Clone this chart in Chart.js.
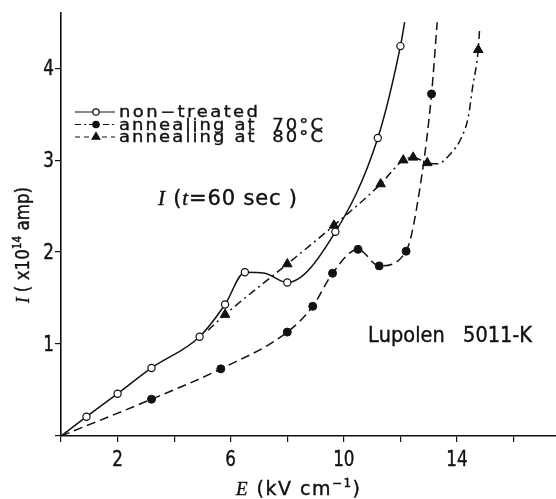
<!DOCTYPE html>
<html lang="en">
<head>
<meta charset="UTF-8">
<title>Lupolen 5011-K current vs field</title>
<style>
  html, body { margin: 0; padding: 0; background: #fff; }
  #wrap { width: 556px; height: 499px; }
</style>
</head>
<body>
<div id="wrap"><canvas id="chart" width="556" height="499"></canvas></div>

<script src="https://cdn.jsdelivr.net/npm/chart.js@4.4.1/dist/chart.umd.js"></script>
<script>
// E in kV/cm, I in 1e-14 amp. Marker points.
const nonTreatedE = [0.9, 2.0, 3.2, 4.9, 5.8, 6.5, 8.0, 9.7, 11.2, 12.0];
const nonTreatedI = [0.21, 0.46, 0.74, 1.08, 1.43, 1.78, 1.67, 2.22, 3.24, 4.24];
const anneal70E = [3.2, 5.65, 8.0, 8.9, 9.6, 10.5, 11.25, 12.2, 13.1];
const anneal70I = [0.40, 0.73, 1.13, 1.41, 1.77, 2.03, 1.85, 2.01, 3.72];
const anneal80E = [5.8, 8.0, 9.65, 11.3, 12.1, 12.45, 12.95, 14.75];
const anneal80I = [1.32, 1.87, 2.29, 2.74, 3.0, 3.03, 2.97, 4.2];

// extra points along the drawn curves (no marker): start, bends, end at top
const nonTreatedLineE = [0, 7.2, 12.15];
const nonTreatedLineI = [0, 1.77, 4.5];
const anneal70LineE = [0, 12.75, 13.3];
const anneal70LineI = [0, 2.82, 4.5];
const anneal80LineE = [5.2, 13.3, 13.8, 14.15, 14.4, 14.55, 14.8];
const anneal80LineI = [1.15, 2.96, 3.08, 3.24, 3.47, 3.79, 4.43];

const xTickLabels = [2, 6, 10, 14];
const yTickLabels = [1, 2, 3, 4];
const legendLabels = ['non\u2212treated', 'annealing at  70\u00b0C', 'annealing at  80\u00b0C'];

const INK = '#111';

function series(markE, markI, lineE, lineI) {
    const pts = markE.map((x, i) => ({ x: x, y: markI[i], mark: true }))
        .concat(lineE.map((x, i) => ({ x: x, y: lineI[i], mark: false })));
    return pts.sort((a, b) => a.x - b.x);
}

// draws text char by char, squeezed or spread to a target width
function drawRich(ctx, segs, x, y, o) {
    const size = o.size;
    const sy = o.sy || 1;
    const fontFor = s => (s.it ? 'italic ' : '') + (s.sup ? Math.round(size * 0.62) : size) + 'px ' +
        (s.serif ? '"Liberation Serif", "DejaVu Serif", serif' : '"DejaVu Sans", sans-serif');
    const chars = [];
    segs.forEach(s => {
        const f = fontFor(s);
        ctx.font = f;
        for (const ch of s.t) {
            chars.push({ ch: ch, f: f, dy: s.sup ? -size * 0.42 : 0, w: ctx.measureText(ch).width });
        }
    });
    const w0 = chars.reduce((a, c) => a + c.w, 0);
    let sx = o.sx || 1, gap = 0;
    if (o.width) {
        if (o.width < w0 * sx) sx = o.width / w0;
        else gap = (o.width - w0 * sx) / Math.max(1, chars.length - 1);
    }
    const total = w0 * sx + gap * (chars.length - 1);
    let px = o.align === 'center' ? x - total / 2 : (o.align === 'right' ? x - total : x);
    ctx.save();
    ctx.fillStyle = INK;
    ctx.strokeStyle = INK;
    ctx.lineWidth = 0.4;
    ctx.textAlign = 'left';
    ctx.textBaseline = 'alphabetic';
    chars.forEach(c => {
        ctx.save();
        ctx.translate(px, y + c.dy * sy);
        ctx.scale(sx, sy);
        ctx.font = c.f;
        ctx.fillText(c.ch, 0, 0);
        ctx.strokeText(c.ch, 0, 0);
        ctx.restore();
        px += c.w * sx + gap;
    });
    ctx.restore();
}

function marker(ctx, style, x, y, r) {
    ctx.save();
    ctx.strokeStyle = INK;
    ctx.lineWidth = 1.2;
    ctx.setLineDash([]);
    ctx.beginPath();
    if (style === 'triangle') {
        for (let k = 0; k < 3; k++) {
            const a = k * 2 * Math.PI / 3;
            const px = x + Math.sin(a) * r, py = y - Math.cos(a) * r;
            if (k === 0) ctx.moveTo(px, py); else ctx.lineTo(px, py);
        }
        ctx.closePath();
        ctx.fillStyle = INK;
    } else {
        ctx.arc(x, y, r, 0, Math.PI * 2);
        ctx.fillStyle = style === 'open' ? '#fff' : INK;
    }
    ctx.fill();
    ctx.stroke();
    ctx.restore();
}

const textPlugin = {
    id: 'figureText',
    afterDraw(chart) {
        const ctx = chart.ctx;
        const xs = chart.scales.x, ys = chart.scales.y;

        xTickLabels.forEach(v => {
            drawRich(ctx, [{ t: String(v) }], xs.getPixelForValue(v), 466, { size: 21, sx: 0.8, align: 'center' });
        });
        yTickLabels.forEach(v => {
            drawRich(ctx, [{ t: String(v) }], 54, ys.getPixelForValue(v) + 7, { size: 21, sx: 0.8, align: 'right' });
        });

        // axis titles
        drawRich(ctx, [{ t: 'E', it: true, serif: true }, { t: ' (kV cm' }, { t: '\u22121', sup: true }, { t: ')' }],
            298, 495, { size: 19, width: 124, align: 'center' });
        ctx.save();
        ctx.translate(29, 245);
        ctx.rotate(-Math.PI / 2);
        drawRich(ctx, [{ t: 'I', it: true, serif: true }, { t: ' ( x10' }, { t: '14', sup: true }, { t: ' amp)' }],
            0, 0, { size: 19, width: 116, align: 'center' });
        ctx.restore();

        // annotations
        drawRich(ctx, [{ t: 'I', it: true, serif: true }, { t: ' (' }, { t: 't', it: true, serif: true }, { t: '=60 sec )' }],
            158, 205, { size: 21, width: 139, align: 'left' });
        drawRich(ctx, [{ t: 'Lupolen   5011-K' }], 368, 342, { size: 21, width: 164, align: 'left' });

        // legend (as printed in the figure)
        const rows = [112, 124.5, 137];
        const dashes = [[], [6, 3, 2, 3], [5, 4]];
        const marks = ['open', 'filled', 'triangle'];
        const widths = [139, 204, 204];
        rows.forEach((ry, i) => {
            ctx.save();
            ctx.strokeStyle = INK;
            ctx.lineWidth = 1.2;
            ctx.setLineDash(dashes[i]);
            ctx.beginPath();
            ctx.moveTo(75, ry);
            ctx.lineTo(115, ry);
            ctx.stroke();
            ctx.restore();
            marker(ctx, marks[i], 96, ry, i === 2 ? 4.5 : 3.2);
            drawRich(ctx, [{ t: legendLabels[i] }], 119, ry + 5, { size: 18, sy: 0.88, width: widths[i], align: 'left' });
        });
    }
};

const markRadius = r => (c => (c.raw && c.raw.mark ? r : 0));

const chart = new Chart(document.getElementById('chart'), {
    type: 'line',
    data: {
        datasets: [
            {
                label: legendLabels[0],
                data: series(nonTreatedE, nonTreatedI, nonTreatedLineE, nonTreatedLineI),
                borderColor: INK,
                borderWidth: 1.5,
                pointStyle: 'circle',
                pointRadius: markRadius(3.6),
                pointBackgroundColor: '#fff',
                pointBorderColor: INK,
                pointBorderWidth: 1.2,
                cubicInterpolationMode: 'monotone'
            },
            {
                label: legendLabels[1],
                data: series(anneal70E, anneal70I, anneal70LineE, anneal70LineI),
                borderColor: INK,
                borderWidth: 1.5,
                borderDash: [9, 5],
                pointStyle: 'circle',
                pointRadius: markRadius(4),
                pointBackgroundColor: INK,
                pointBorderColor: INK,
                pointBorderWidth: 1,
                cubicInterpolationMode: 'monotone'
            },
            {
                label: legendLabels[2],
                data: series(anneal80E, anneal80I, anneal80LineE, anneal80LineI),
                borderColor: INK,
                borderWidth: 1.5,
                borderDash: [8, 4, 2, 4],
                pointStyle: 'triangle',
                pointRadius: markRadius(5.5),
                pointBackgroundColor: INK,
                pointBorderColor: INK,
                pointBorderWidth: 1,
                cubicInterpolationMode: 'monotone'
            }
        ]
    },
    options: {
        responsive: false,
        animation: false,
        devicePixelRatio: 1,
        events: [],
        layout: { padding: { top: 13, left: 0, right: 0, bottom: 0 } },
        plugins: {
            legend: { display: false },
            tooltip: { enabled: false }
        },
        scales: {
            x: {
                type: 'linear',
                min: 0,
                max: 17.5,
                afterFit(s) { s.height = 63; },
                ticks: { stepSize: 2, display: false, includeBounds: false },
                grid: { drawOnChartArea: false, drawTicks: true, tickLength: 6, color: INK, lineWidth: 1.2 },
                border: { color: INK, width: 1.6 }
            },
            y: {
                type: 'linear',
                min: 0,
                max: 4.6,
                afterFit(s) { s.width = 61; },
                ticks: { stepSize: 1, display: false, includeBounds: false },
                grid: { drawOnChartArea: false, drawTicks: true, tickLength: 6, color: INK, lineWidth: 1.2 },
                border: { color: INK, width: 1.6 }
            }
        }
    },
    plugins: [textPlugin]
});
</script>
</body>
</html>
